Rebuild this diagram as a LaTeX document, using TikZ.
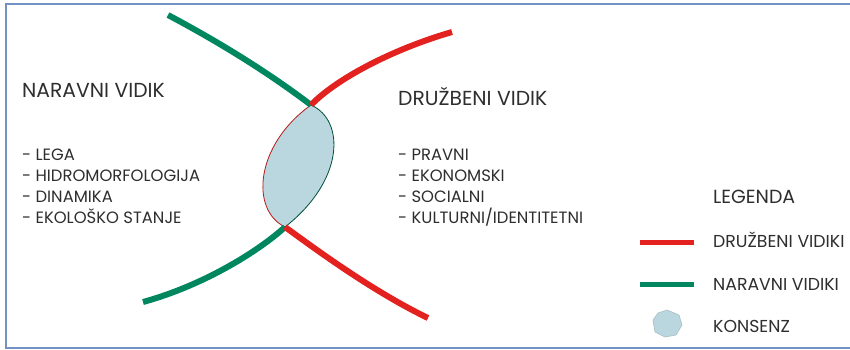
\documentclass[tikz,border=0pt]{standalone}
\usepackage{fontspec}
\usepackage{tikz}
\usetikzlibrary {positioning}
\newfontfamily\vidfont{Poppins}
\definecolor{vgreen}{HTML}{00875F}
\definecolor{vred}{HTML}{E3211F}
\definecolor{vlens}{HTML}{BAD7DF}
\definecolor{vframe}{HTML}{7392C4}
\definecolor{vtext}{HTML}{2E2E2E}

\begin{document}
\begin{tikzpicture}[x=1pt,y=-1pt,
  naslov/.style={anchor=base west,inner sep=0pt,text=vtext,font=\vidfont\fontsize{20.3}{22}\selectfont},
  alineja/.style={anchor=base west,inner sep=0pt,text=vtext,font=\vidfont\fontsize{16.4}{18}\selectfont},
  legenda/.style={anchor=base west,inner sep=0pt,text=vtext,font=\vidfont\fontsize{17.3}{19}\selectfont},
  naravni/.style={draw=vgreen,line width=6pt},
  druzbeni/.style={draw=vred,line width=6pt}]
\useasboundingbox (0,0) rectangle (850,349);

\draw[vframe,line width=1.6pt] (856,4) -- (6,4) -- (6,348) -- (856,348);

\coordinate (T) at (311,105);

\coordinate (B) at (285,227);

\coordinate (G1) at (168,15);

\coordinate (G2) at (143,302);

\coordinate (R1) at (452,32);

\coordinate (R2) at (428,318);

\fill[vlens] (T) .. controls (345,120) and (345,180) .. (B) .. controls (250,210) and (255,145) .. (T);

\draw[vgreen!60!black,line width=0.8pt] (T) .. controls (345,120) and (345,180) .. (B);

\draw[vred!80!black,line width=0.8pt] (B) .. controls (250,210) and (255,145) .. (T);

\draw[naravni] (G1) .. controls (215,40) and (265,70) .. (T);

\draw[naravni] (B) .. controls (260,250) and (205,285) .. (G2);

\draw[druzbeni] (T) .. controls (335,80) and (390,50) .. (R1);

\draw[druzbeni] (B) .. controls (310,245) and (370,290) .. (R2);

\node[naslov] (NV) at (22,97) {NARAVNI VIDIK};

\node[alineja] (N1) at (22,160) {- LEGA};

\node[alineja] (N2) at (22,181) {- HIDROMORFOLOGIJA};

\node[alineja] (N3) at (22,202) {- DINAMIKA};

\node[alineja] (N4) at (22,223) {- EKOLOŠKO STANJE};

\node[naslov] (DV) at (398,105) {DRUŽBENI VIDIK};

\node[alineja] (D1) at (398,160) {- PRAVNI};

\node[alineja] (D2) at (398,181) {- EKONOMSKI};

\node[alineja] (D3) at (398,202) {- SOCIALNI};

\node[alineja] (D4) at (398,223) {- KULTURNI/IDENTITETNI};

\node[legenda,font=\vidfont\fontsize{19}{21}\selectfont] (LG) at (713,203) {LEGENDA};

\coordinate (LR1) at (640,242);

\coordinate (LR2) at (694,242);

\draw[vred,line width=5pt] (LR1) -- (LR2);

\node[legenda] (LD) at (713,247) {DRUŽBENI VIDIKI};

\coordinate (LN1) at (640,284);

\coordinate (LN2) at (694,284);

\draw[vgreen,line width=5pt] (LN1) -- (LN2);

\node[legenda] (LN) at (713,290) {NARAVNI VIDIKI};

\filldraw[fill=vlens,draw=vlens!70!gray,line width=0.6pt] (658,313) -- (667,310) -- (679,315) -- (682,325) -- (676,335) -- (665,337) -- (655,332) -- (653,320) -- cycle;

\node[legenda] (LK) at (713,332) {KONSENZ};

\end{tikzpicture}
\end{document}
